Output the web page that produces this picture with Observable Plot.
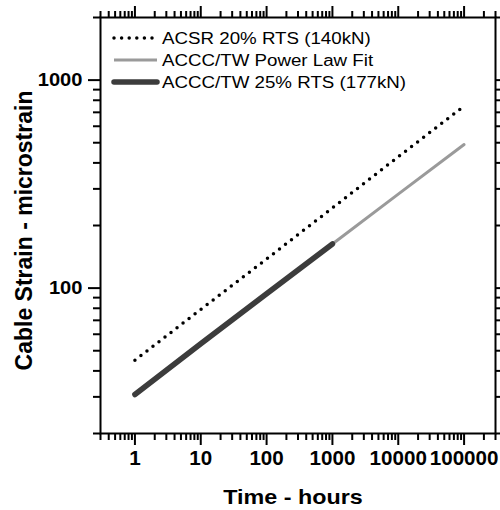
<!DOCTYPE html>
<html>
<head>
<meta charset="utf-8">
<script src="https://cdn.jsdelivr.net/npm/d3@7"></script>
<script src="https://cdn.jsdelivr.net/npm/@observablehq/plot@0.6"></script>
<style>
  html, body { margin: 0; padding: 0; background: #fff; }
</style>
</head>
<body>
<div id="chart"></div>
<script>
// ---- data ----
const hours      = [1, 10, 100, 1000, 10000, 100000];
const acsr20     = [45, 79, 138, 243, 428, 750];          // ACSR 20% RTS (140kN)
const fitHours   = [1, 10, 100, 1000, 10000, 100000];
const acccFit    = [30.8, 54, 94, 163, 283, 490];         // ACCC/TW Power Law Fit
const testHours  = [1, 10, 100, 1000];
const accc25     = [30.8, 54, 94, 163];                   // ACCC/TW 25% RTS (177kN)

const xTickValues = [1, 10, 100, 1000, 10000, 100000];
const xTickLabels = ["1", "10", "100", "1000", "10000", "100000"];
const yTickValues = [100, 1000];
const yTickLabels = ["100", "1000"];

const seriesNames = ["ACSR 20% RTS (140kN)", "ACCC/TW Power Law Fit", "ACCC/TW 25% RTS (177kN)"];
const xTitle = "Time - hours";
const yTitle = "Cable Strain - microstrain";

// ---- styling ----
const FONT = "'Liberation Sans', Arial, Helvetica, sans-serif";
const xDomain = [0.3, 300000];
const yDomain = [20, 2000];

function minorTicks(domain) {
  const out = [];
  for (let e = -2; e <= 6; e++) {
    for (let m = 2; m <= 9; m++) {
      const v = m * Math.pow(10, e);
      if (v >= domain[0] * 0.999 && v <= domain[1] * 1.001) out.push(+v.toPrecision(6));
    }
  }
  return out;
}
const xMinor = minorTicks(xDomain);
const yMinor = minorTicks(yDomain);

const M = {left: 100, right: 5, top: 17, bottom: 77};

const chart = Plot.plot({
  width: 500,
  height: 510,
  marginLeft: M.left,
  marginRight: M.right,
  marginTop: M.top,
  marginBottom: M.bottom,
  style: {fontFamily: FONT, background: "#fff", color: "#000"},
  x: {type: "log", domain: xDomain, label: null},
  y: {type: "log", domain: yDomain, label: null},
  marks: [
    // series
    Plot.line(fitHours, {x: fitHours, y: acccFit, stroke: "#9a9a9a", strokeWidth: 3}),
    Plot.line(testHours, {x: testHours, y: accc25, stroke: "#3c3c3c", strokeWidth: 5.5, strokeLinecap: "round"}),
    Plot.line(hours, {x: hours, y: acsr20, stroke: "#000", strokeWidth: 3.5, strokeDasharray: "0 7.6", strokeLinecap: "round"}),
    // axes: bottom
    Plot.axisX(xMinor, {tickSize: 7, strokeWidth: 2, tickFormat: () => ""}),
    Plot.axisX(xTickValues, {tickSize: 12, strokeWidth: 2, tickPadding: 5,
      tickFormat: d => xTickLabels[xTickValues.indexOf(d)], fontSize: 20, fontWeight: "bold"}),
    // top
    Plot.axisX(xMinor, {anchor: "top", tickSize: 7, strokeWidth: 2, tickFormat: () => ""}),
    Plot.axisX(xTickValues, {anchor: "top", tickSize: 12, strokeWidth: 2, tickFormat: () => ""}),
    // left
    Plot.axisY(yMinor, {tickSize: 7, strokeWidth: 2, tickFormat: () => ""}),
    Plot.axisY(yTickValues, {tickSize: 12, strokeWidth: 2, tickPadding: 6,
      tickFormat: d => yTickLabels[yTickValues.indexOf(d)], fontSize: 19, fontWeight: "bold"}),
    // right
    Plot.axisY(yMinor, {anchor: "right", tickSize: 7, strokeWidth: 2, tickFormat: () => ""}),
    Plot.axisY(yTickValues, {anchor: "right", tickSize: 12, strokeWidth: 2, tickFormat: () => ""}),
    Plot.frame({stroke: "#000", strokeWidth: 2}),
    // axis titles
    Plot.text([xTitle], {text: d => d, frameAnchor: "bottom", textAnchor: "middle", dx: -5, dy: 64, fontSize: 21, fontWeight: "bold", lineAnchor: "middle"}),
    Plot.text([yTitle], {text: d => d, frameAnchor: "left", textAnchor: "middle", rotate: -90, dx: -76, dy: 5, fontSize: 23, fontWeight: "bold", lineAnchor: "middle"})
  ]
});

document.getElementById("chart").appendChild(chart);

// ---- legend (inside the frame, top-left) ----
const svg = d3.select(chart);
const lg = svg.append("g").attr("transform", `translate(${M.left},${M.top})`);
const rows = [
  {name: seriesNames[0], stroke: "#000", width: 3.5, dash: "0 7.6", cap: "round"},
  {name: seriesNames[1], stroke: "#9a9a9a", width: 3, dash: null, cap: "butt"},
  {name: seriesNames[2], stroke: "#3c3c3c", width: 5.5, dash: null, cap: "round"}
];
rows.forEach((r, i) => {
  const y = 21 + i * 22;
  lg.append("line")
    .attr("x1", 14).attr("x2", 57).attr("y1", y).attr("y2", y)
    .attr("stroke", r.stroke).attr("stroke-width", r.width)
    .attr("stroke-linecap", r.cap)
    .attr("stroke-dasharray", r.dash);
  lg.append("text")
    .attr("x", 62).attr("y", y).attr("dy", "0.36em")
    .attr("text-anchor", "start")
    .attr("font-family", FONT).attr("font-size", 16)
    .attr("fill", "#000")
    .text(r.name);
});

// Horizontally widen text slightly to match reference glyph proportions
function stretch(sel, k) {
  sel.each(function () {
    const len = this.getComputedTextLength();
    if (len > 0) {
      this.setAttribute("textLength", (len * k).toFixed(1));
      this.setAttribute("lengthAdjust", "spacingAndGlyphs");
    }
  });
}
stretch(lg.selectAll("text"), 1.17);
stretch(svg.selectAll('g[aria-label="x-axis tick label"] text'), 1.03);
stretch(svg.selectAll('g[aria-label="y-axis tick label"] text'), 1.06);
stretch(svg.selectAll("text").filter(function () { return this.textContent === xTitle; }), 1.11);
</script>
</body>
</html>
